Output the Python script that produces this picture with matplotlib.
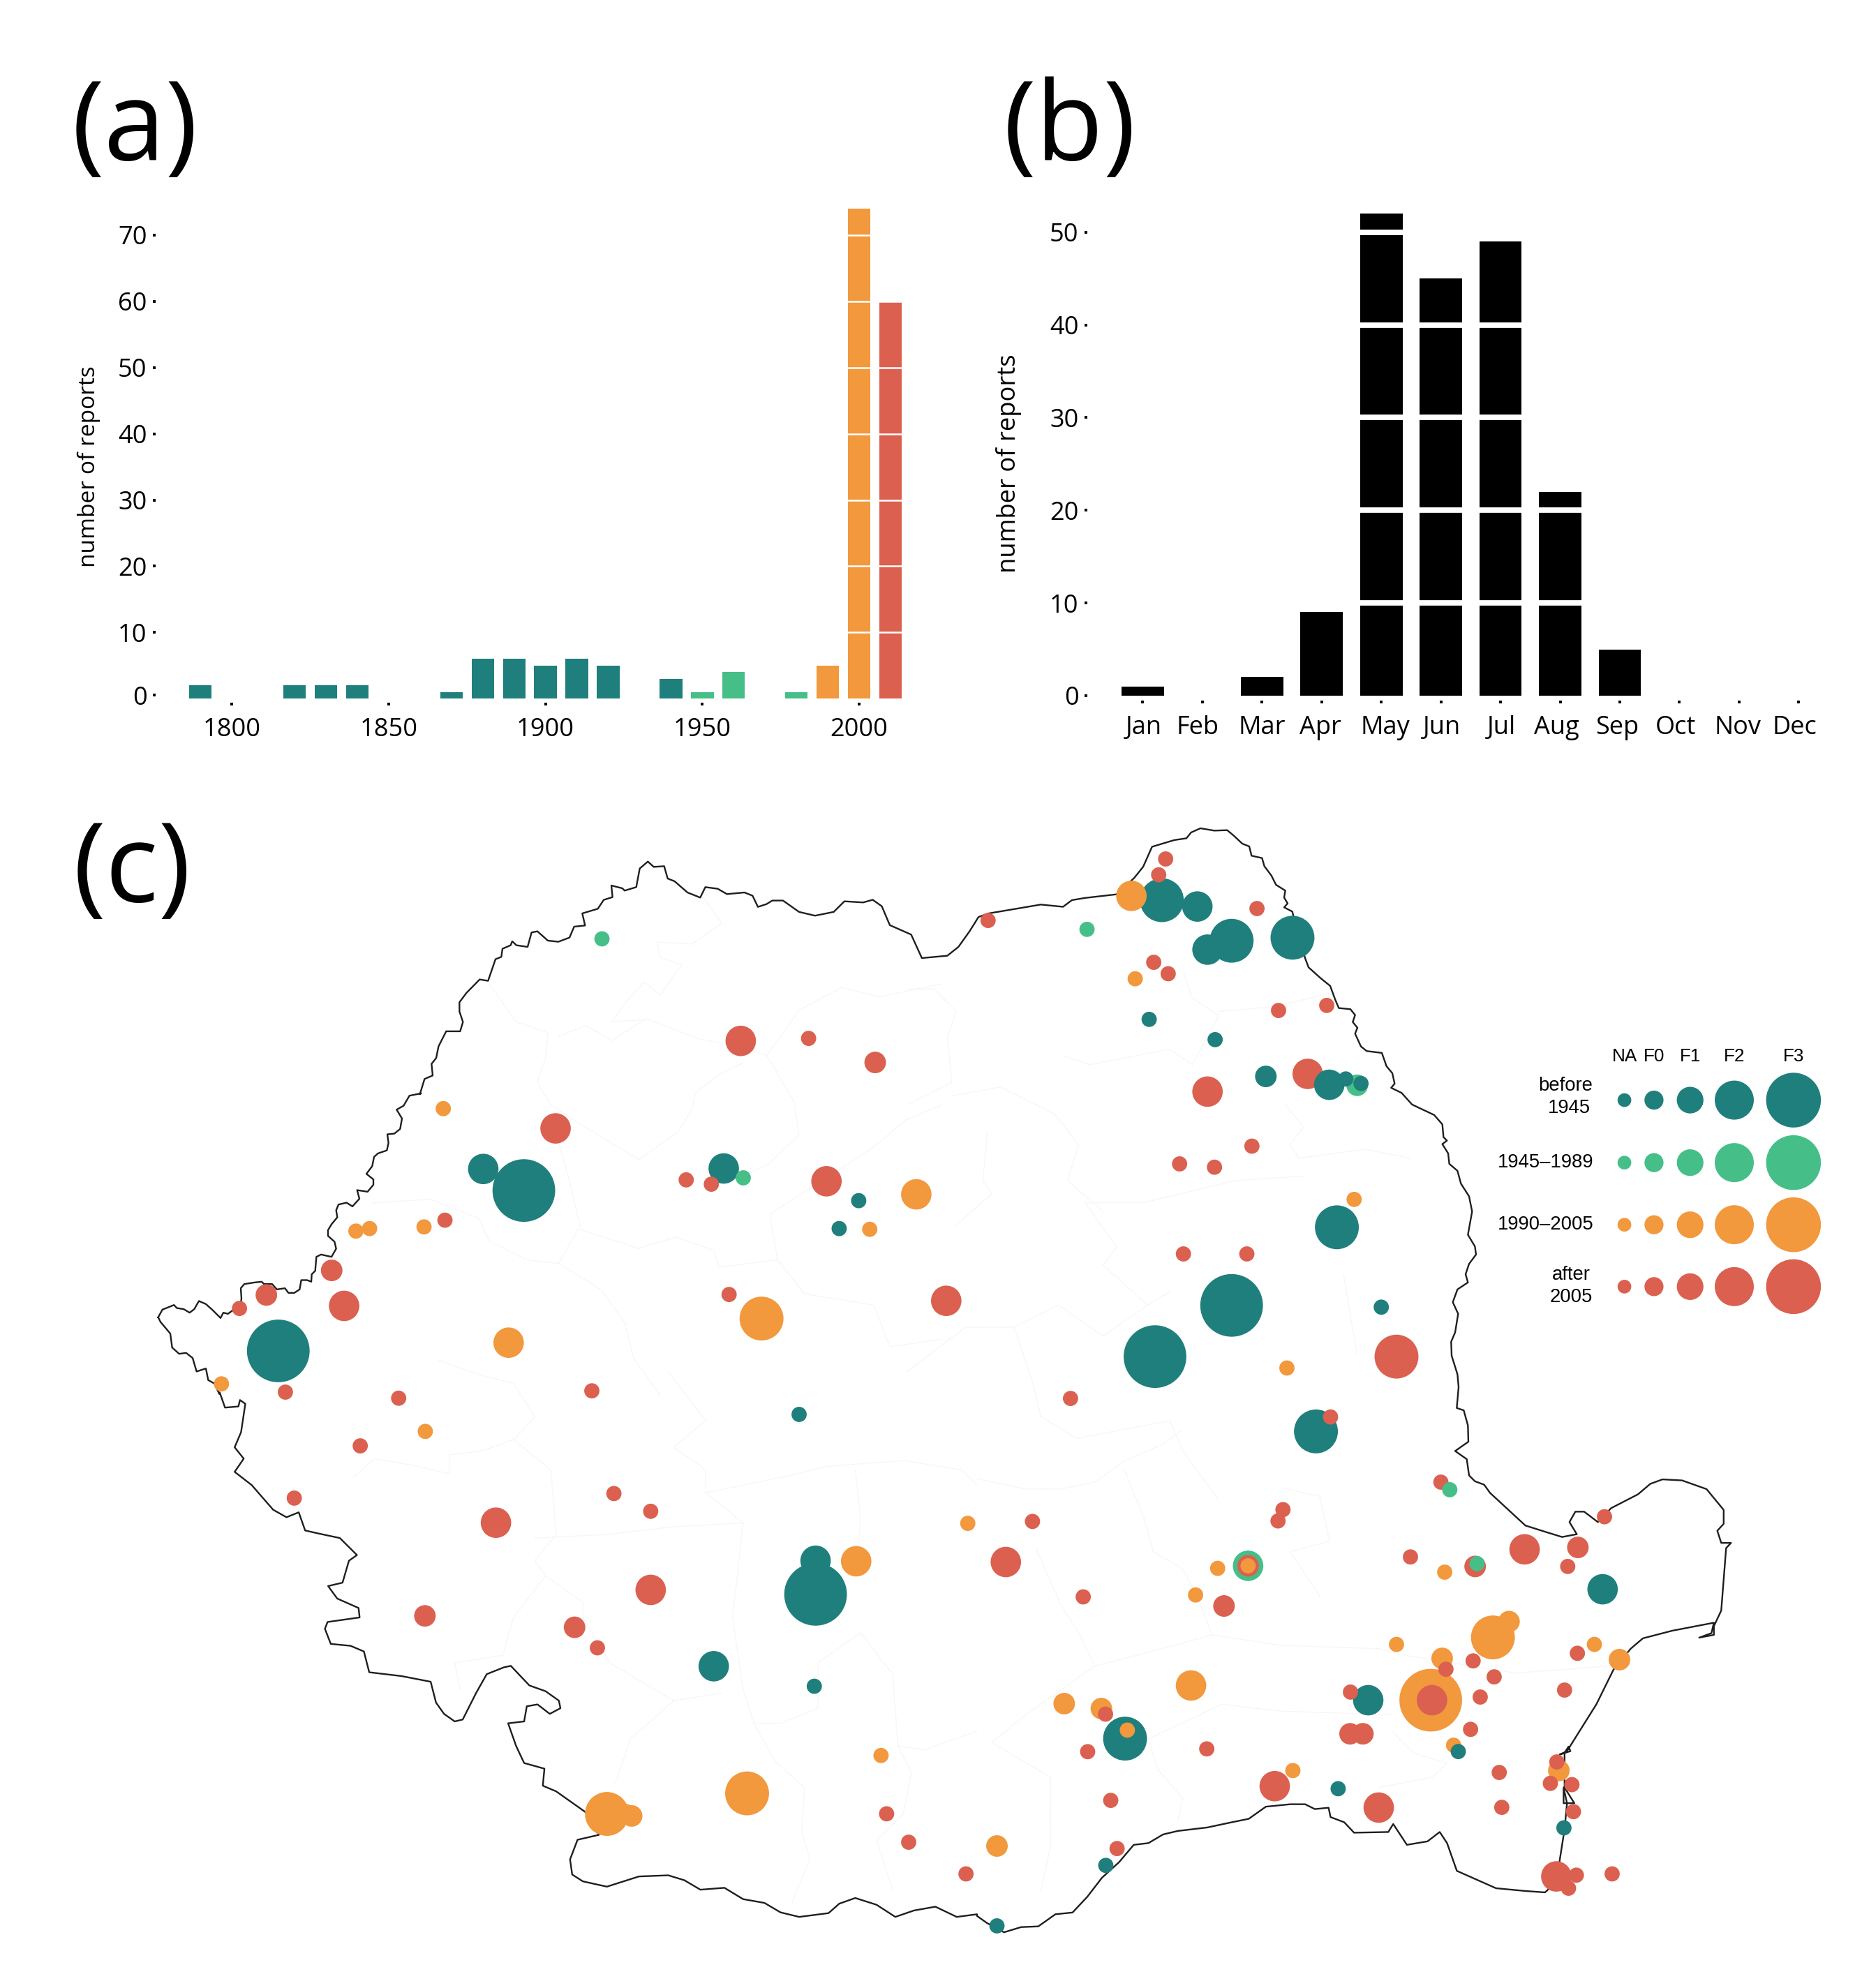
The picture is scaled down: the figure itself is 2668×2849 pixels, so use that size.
"""
plot.py - tornado reports: per decade (a), per month (b), and map of reports (c).
"""
import matplotlib
matplotlib.use("Agg")
import matplotlib.pyplot as plt
from matplotlib.patches import Circle
from matplotlib.transforms import ScaledTranslation

TEAL = "#1F7F7C"
GREEN = "#45BF87"
ORANGE = "#F2983D"
RED = "#DB6050"
W, H = 2668, 2849
SHOWN = 1468 / 2668   # map coordinates were read on the 1468 wide picture

plt.rcParams["font.family"] = ["Open Sans", "DejaVu Sans"]

# Panel a
decades = [1790, 1800, 1810, 1820, 1830, 1840, 1850, 1860, 1870, 1880, 1890, 1900,
           1910, 1920, 1930, 1940, 1950, 1960, 1970, 1980, 1990, 2000, 2010]
decade_counts = [2, 0, 0, 2, 2, 2, 0, 0, 1, 6, 6, 5, 6, 5, 0, 3, 1, 4, 0, 1, 5, 74, 60]
decade_colors = [TEAL] * 16 + [GREEN] * 4 + [ORANGE] * 2 + [RED]

# Panel b
months = ["Jan", "Feb", "Mar", "Apr", "May", "Jun", "Jul", "Aug", "Sep", "Oct", "Nov", "Dec"]
month_counts = [1, 0, 2, 9, 52, 45, 49, 22, 5, 0, 0, 0]
month_label_shift = [1, -4, 0, -1, 3, 1, 1, -3, -2, -3, -1, -3]   # labels sit a little off their ticks

# Panel c, reports as (x, y, F class)
red_pts = [
    (919, 677.5, "NA"), (913.5, 690, "NA"), (779, 726, "NA"), (991, 716.6, "NA"), (909.6, 759, "NA"),
    (921, 768, "NA"), (1008, 797, "NA"), (1046, 793, "NA"), (987, 904, "NA"), (930, 918, "NA"),
    (957.5, 920.6, "NA"), (933, 989, "NA"), (983, 989, "NA"), (746, 1026, "F1"), (1101, 1070, "F2"),
    (844, 1103, "NA"), (1049, 1117.6, "NA"), (1136, 1169, "NA"), (1031, 847, "F1"), (952, 861, "F1"),
    (584, 821, "F1"), (637.5, 819, "NA"), (690, 838, "F0"), (438, 890, "F1"), (541, 930.6, "NA"),
    (560.8, 934, "NA"), (651.6, 931.7, "F1"), (350.8, 962.4, "NA"), (261.5, 1002, "F0"), (210, 1021.4, "F0"),
    (188.8, 1032, "NA"), (271.3, 1030, "F1"), (574.8, 1021, "NA"), (225, 1098, "NA"), (314.3, 1102.8, "NA"),
    (466.6, 1097, "NA"), (284, 1140.4, "NA"), (232, 1181.6, "NA"), (391, 1201, "F1"), (484, 1178, "NA"),
    (513, 1192, "NA"), (513, 1254, "F1"), (335, 1274.5, "F0"), (453, 1283.5, "F0"), (471, 1299.7, "NA"),
    (699, 1430.6, "NA"), (716.4, 1453, "NA"), (761.6, 1478, "NA"), (814, 1200, "NA"), (793, 1232, "F1"),
    (854, 1259.5, "NA"), (871.6, 1352, "NA"), (857.5, 1381.6, "NA"), (951.4, 1379.4, "NA"), (875.7, 1420, "NA"),
    (880.7, 1458, "NA"), (1011.5, 1190.7, "NA"), (1007.6, 1199.6, "NA"), (984, 1235, "F0"), (965, 1266.7, "F0"),
    (1112, 1228, "NA"), (1163, 1235.5, "F0"), (1202, 1222, "F1"), (1244, 1220.5, "F0"), (1236, 1235.5, "NA"),
    (1265, 1196.3, "NA"), (1140, 1316.6, "NA"), (1161.4, 1310, "NA"), (1178, 1322.6, "NA"), (1167, 1338.5, "NA"),
    (1129, 1341, "F1"), (1064.7, 1334.6, "NA"), (1064.4, 1367.5, "F0"), (1074.5, 1367.5, "F0"), (1159.4, 1364, "NA"),
    (1182, 1398, "NA"), (1005, 1408.8, "F1"), (1087, 1425.7, "F1"), (1184, 1425.5, "NA"), (1227.4, 1389.7, "NA"),
    (1222.3, 1406.6, "NA"), (1239.3, 1407.6, "NA"), (1240.5, 1428.9, "NA"), (1227, 1480, "F1"), (1242.8, 1479, "NA"),
    (1236.6, 1489.3, "NA"), (1271, 1478, "NA"), (1243.6, 1304, "NA"), (1233.5, 1333, "NA"),
]
orange_pts = [
    (892, 706.6, "F1"), (895, 772, "NA"), (722.4, 942, "F1"), (1067.6, 946, "NA"), (1014.6, 1079, "NA"),
    (349.5, 874.4, "NA"), (685.7, 969.6, "NA"), (280.6, 971, "NA"), (291.4, 969, "NA"), (334.3, 967.7, "NA"),
    (401, 1059, "F1"), (600.4, 1040, "F2"), (174.6, 1091.5, "NA"), (335.3, 1129, "NA"), (763, 1201.5, "NA"),
    (675, 1231.4, "F1"), (694.6, 1384.6, "NA"), (589, 1414.5, "F2"), (478.5, 1430.7, "F2"), (498, 1432.3, "F0"),
    (494, 1429, "NA"), (839, 1343.7, "F0"), (868.3, 1347.6, "F0"), (888.8, 1364.6, "NA"), (939, 1329.4, "F1"),
    (786, 1456, "F0"), (984, 1235, "NA"), (960, 1237, "NA"), (942.6, 1258, "NA"), (1139, 1240, "NA"),
    (1177, 1291.5, "F2"), (1189.7, 1279, "F0"), (1101, 1297, "NA"), (1137, 1308, "F0"), (1128, 1341, "F3"),
    (1146, 1376.5, "NA"), (1019.3, 1396.5, "NA"), (1229, 1396.5, "F0"), (1257, 1297, "NA"), (1276.8, 1309, "F0"),
]
green_pts = [
    (857, 733, "NA"), (1070, 856, "F0"), (1143, 1175, "NA"), (474.6, 740.5, "NA"), (586, 929, "NA"),
    (984, 1235, "F1"), (1164.5, 1233.3, "NA"),
]
teal_pts = [
    (916, 710, "F2"), (944, 715, "F1"), (952, 749, "F1"), (971, 742, "F2"), (1019, 739.6, "F2"),
    (906, 804, "NA"), (958, 820, "NA"), (998, 849, "F0"), (1048, 855.6, "F1"), (1061, 851, "NA"),
    (1073, 854.6, "NA"), (1054, 968, "F2"), (971, 1029.6, "F3"), (910.6, 1070, "F3"), (1089, 1031, "NA"),
    (1037.5, 1129, "F2"), (381, 922, "F1"), (413, 939, "F3"), (570.6, 921.6, "F1"), (677, 947, "NA"),
    (661.6, 969, "NA"), (219.4, 1065.5, "F3"), (630, 1115.6, "NA"), (643, 1231, "F1"), (643, 1257.5, "F3"),
    (562.7, 1314.2, "F1"), (642, 1330, "NA"), (887, 1371.3, "F2"), (871.8, 1471.3, "NA"), (786, 1519, "NA"),
    (1263.5, 1253.5, "F1"), (1078.7, 1341, "F1"), (1149.7, 1381.5, "NA"), (1055, 1410.8, "NA"), (1233, 1441.7, "NA"),
]
map_radius = {"NA": 6, "F0": 8.5, "F1": 12, "F2": 17.3, "F3": 24.7}

# Legend of panel c
legend_classes = ["NA", "F0", "F1", "F2", "F3"]
legend_class_x = [1280.7, 1304, 1332.5, 1367.3, 1414]
legend_radius = [5.4, 7.5, 10.5, 15.4, 21.6]
legend_rows_y = [867.7, 917, 966, 1014.8]
legend_colors = [TEAL, GREEN, ORANGE, RED]

frame_a = (220, 1500, 3, 3)
frame_b = (600, 1220, 3, 3)
frame_c = (1700, 1170, 3, 3)
frame_d = (1950, 1640, 3, 3)
frame4 = (150, 1150, 1.3067, 1.845)
frame5 = (1300, 1150, 1.568, 1.568)
frame6 = (200, 1950, 1.3067, 1.845)
frame7 = (1400, 2050, 1.4255, 2.01)
border_nw = [(20, 1165), (38, 1132), (88, 1112), (100, 1125), (130, 1130), (155, 1145), (175, 1130), (195, 1095),
             (225, 1108), (255, 1135), (288, 1168), (300, 1145), (320, 1150), (340, 1135), (370, 1130), (378, 1085),
             (375, 1040), (390, 1022), (435, 1015), (465, 1012), (475, 1022), (510, 1022), (530, 1045), (565, 1040),
             (580, 1060), (605, 1060), (628, 1045), (635, 1005), (660, 1005), (678, 1012), (680, 980), (695, 965),
             (700, 905), (720, 895), (765, 905), (785, 870), (778, 840), (750, 815), (750, 790), (765, 765),
             (790, 735), (785, 705), (795, 680), (830, 672), (855, 688), (885, 655), (875, 618), (920, 625),
             (945, 595), (945, 572), (915, 548), (940, 515), (948, 475), (965, 460), (1003, 447), (1010, 415),
             (1005, 378), (1035, 375), (1060, 355), (1068, 310), (1045, 272), (1075, 255), (1100, 212), (1150, 202)]
border_n = [(5, 1045), (25, 980), (60, 965), (55, 915), (75, 890), (85, 840), (118, 775), (178, 775), (190, 735),
            (175, 690), (175, 650), (205, 610), (262, 552), (298, 558), (330, 465), (355, 455), (360, 420), (395, 405),
            (402, 388), (420, 405), (468, 412), (485, 350), (510, 345), (555, 385), (600, 390), (648, 372), (668, 325),
            (715, 320), (703, 268), (770, 248), (795, 210), (833, 198), (828, 148), (875, 160), (885, 170), (935, 155),
            (950, 75), (985, 45), (1010, 68), (1055, 65), (1070, 118), (1100, 130), (1155, 178), (1210, 200),
            (1232, 155), (1285, 162), (1325, 185), (1400, 178), (1435, 192), (1458, 240), (1495, 228)]
border4 = [(1250, 260), (1270, 260), (1300, 290), (1330, 300), (1365, 290), (1385, 262), (1420, 265), (1438, 258),
           (1455, 275), (1470, 325), (1510, 350), (1530, 412)]
border5 = [(35, 350), (90, 345), (115, 325), (140, 290), (160, 258), (182, 250), (300, 230), (350, 235), (370, 220),
           (400, 215), (470, 207), (510, 170), (530, 145), (550, 100), (600, 85)]
border_ne = [(0, 95), (20, 70), (60, 52), (120, 62), (175, 60), (205, 85), (240, 118), (270, 130), (280, 170),
             (325, 180), (335, 215), (365, 255), (385, 295), (425, 320), (420, 350), (435, 375), (420, 392), (455, 410),
             (460, 430), (510, 610), (525, 650), (575, 695), (618, 730), (640, 790), (655, 825), (705, 830), (725, 855),
             (715, 885), (735, 910), (725, 935), (750, 990), (775, 1010), (840, 1018), (860, 1075), (885, 1105),
             (895, 1150), (880, 1168), (925, 1190), (970, 1240), (1065, 1285), (1100, 1325), (1105, 1380), (1120, 1395),
             (1100, 1410)]
border_e = [(375, 40), (380, 85), (415, 115), (430, 170), (465, 225), (478, 290), (460, 390), (490, 440), (495, 475),
            (465, 515), (450, 560), (460, 595), (415, 625), (395, 680), (418, 730), (405, 810), (388, 850), (390, 910),
            (415, 990), (420, 1045), (412, 1135), (442, 1145), (460, 1210), (462, 1280), (405, 1320), (455, 1355),
            (465, 1425), (490, 1450), (530, 1465), (555, 1500)]
border7 = [(1120, 275), (1165, 295), (1195, 308), (1225, 300), (1210, 265), (1222, 235), (1240, 235), (1268, 265),
           (1295, 225), (1350, 185), (1375, 155), (1400, 142), (1440, 145), (1490, 170), (1525, 230), (1525, 270),
           (1512, 290), (1520, 325), (1540, 325), (1530, 340), (1520, 520), (1505, 565), (1505, 590), (1475, 598),
           (1500, 585), (1505, 555), (1420, 578), (1360, 600), (1335, 630), (1300, 690), (1265, 790), (1205, 925),
           (1190, 935), (1212, 925), (1208, 912), (1200, 930), (1200, 1030), (1220, 1075), (1198, 1075), (1198, 1030),
           (1205, 1075), (1200, 1150), (1190, 1240), (1185, 1300), (1160, 1332), (1120, 1328), (1060, 1320), (980, 1270),
           (960, 1190), (945, 1158), (920, 1185), (878, 1195), (850, 1135), (840, 1158), (770, 1160), (750, 1130),
           (722, 1115), (718, 1088), (690, 1092), (670, 1078), (640, 1078), (590, 1085), (555, 1120), (520, 1130),
           (470, 1145), (410, 1155), (380, 1165), (350, 1190), (320, 1195), (290, 1245), (255, 1290), (225, 1345),
           (195, 1390), (160, 1395), (125, 1430), (90, 1432), (55, 1447), (20, 1420), (0, 1400)]
border6 = [(1568, 1465), (1530, 1472), (1490, 1445), (1450, 1455), (1415, 1472), (1380, 1440), (1340, 1422),
           (1310, 1437), (1290, 1462), (1235, 1472), (1200, 1460), (1170, 1435), (1130, 1425), (1095, 1395),
           (1050, 1400), (1020, 1375), (990, 1362), (935, 1365), (875, 1392), (830, 1378), (810, 1360), (806, 1320),
           (820, 1268), (860, 1255), (835, 1195), (780, 1140), (755, 1125), (758, 1080), (720, 1065), (705, 1020),
           (690, 960), (720, 955), (725, 915), (745, 910), (768, 935), (788, 920), (785, 900), (760, 875), (730, 860),
           (695, 808), (682, 812), (650, 830), (630, 880), (605, 950), (590, 955), (570, 935), (555, 905), (545, 850),
           (490, 835), (430, 825), (420, 770), (395, 755), (358, 750), (347, 710), (352, 692), (412, 680), (410, 655),
           (370, 630), (353, 597), (380, 588), (392, 530), (407, 515), (375, 470), (335, 458), (310, 450), (298, 402),
           (275, 415), (250, 395), (210, 330), (178, 295), (195, 260), (178, 230), (190, 190), (198, 115), (188, 105),
           (185, 122), (160, 125), (150, 85)]
border_w = [(283, 1495), (262, 1450), (235, 1435), (225, 1385), (185, 1398), (168, 1340), (140, 1318), (110, 1322),
            (80, 1295), (72, 1235), (30, 1185), (20, 1165)]

# County lines, very faint, same crops
county4 = [
    [(1120, 250), (1155, 320), (1100, 375), (1035, 370), (1040, 410), (1080, 430), (1040, 510), (1010, 475), (975, 530),
     (950, 580), (1020, 575), (1110, 625), (1200, 650), (1240, 670)],
    [(720, 480), (770, 580), (830, 610), (825, 680), (810, 740), (835, 800), (900, 860), (1000, 945), (1075, 870),
     (1100, 810), (1105, 770), (1150, 720), (1195, 690)],
    [(850, 620), (900, 590), (950, 630), (1010, 575)],
    [(1240, 670), (1290, 790), (1300, 880), (1240, 960), (1150, 1010)],
    [(500, 1060), (610, 1050), (700, 1100), (720, 1160), (790, 1210), (850, 1220), (890, 1120), (870, 1000), (850, 900)],
    [(850, 1220), (930, 1290), (975, 1380), (990, 1470), (1040, 1568)],
    [(890, 1130), (1000, 1180), (1070, 1150), (1140, 1185), (1150, 1230), (1260, 1210), (1310, 1300), (1440, 1330),
     (1470, 1440), (1568, 1420)],
    [(1380, 490), (1300, 550), (1240, 670)],
    [(1380, 490), (1450, 515), (1568, 480)],
    [(1260, 1210), (1245, 1090), (1420, 930), (1450, 900), (1500, 840), (1568, 800)],
]
county6 = [
    [(400, 310), (440, 260), (520, 280), (580, 300), (580, 250), (640, 240), (700, 210), (770, 290), (780, 460), (740, 530),
     (760, 570), (830, 640), (830, 680), (880, 800), (1000, 900), (1090, 880)],
    [(700, 210), (740, 150), (700, 60), (640, 40), (560, 0)],
    [(740, 470), (880, 460), (1000, 440), (1130, 430), (1120, 560), (1110, 680), (1130, 870), (1150, 960), (1200, 960),
     (1270, 920), (1270, 800), (1350, 720), (1410, 830), (1420, 1020)],
    [(1130, 430), (1060, 350), (1060, 290), (1000, 230), (1060, 160), (990, 30)],
    [(1060, 350), (1200, 310), (1290, 280), (1430, 265), (1540, 290), (1568, 330)],
    [(1340, 290), (1350, 420), (1345, 500)],
    [(760, 570), (700, 680), (680, 780), (590, 800), (600, 870)],
    [(1150, 960), (1190, 1060), (1245, 1130), (1240, 1250), (1255, 1320), (1220, 1440)],
    [(1420, 1020), (1470, 1030), (1568, 980)],
    [(1420, 1020), (1445, 1090), (1430, 1200), (1380, 1270), (1410, 1400)],
    [(1000, 900), (920, 1000), (890, 1120)],
]
county5 = [
    [(0, 420), (60, 420), (110, 470), (90, 530), (100, 630), (0, 680)],
    [(100, 660), (210, 640), (330, 700), (385, 770), (360, 850), (440, 920)],
    [(350, 570), (410, 590), (590, 555), (640, 590), (700, 480), (640, 440), (620, 380)],
    [(700, 470), (820, 460), (950, 430)],
    [(180, 740), (170, 850), (190, 880), (110, 950)],
    [(400, 900), (470, 1000), (440, 1040), (540, 1130), (590, 1100)],
    [(850, 680), (890, 730), (860, 770), (880, 800), (1030, 780), (1130, 800)],
    [(400, 900), (530, 900), (740, 850), (890, 840)],
    [(980, 1060), (1000, 1180), (1010, 1240)],
    [(0, 1280), (130, 1180), (240, 1180), (340, 1130), (440, 1200), (540, 1130)],
    [(240, 1180), (280, 1300), (300, 1380), (380, 1430), (590, 1390), (620, 1460), (700, 1568)],
]
county7 = [
    [(0, 140), (100, 170), (170, 170), (240, 150), (300, 90), (380, 40), (420, 0)],
    [(120, 340), (170, 500), (210, 590), (240, 680), (350, 640), (480, 590), (620, 620), (820, 630)],
    [(820, 630), (880, 650), (1100, 700), (1290, 680)],
    [(480, 590), (450, 480), (420, 400), (360, 350), (340, 250), (300, 110)],
    [(700, 480), (640, 350), (720, 320), (700, 190), (630, 170)],
    [(850, 870), (890, 930), (960, 960), (930, 1000), (820, 1030)],
    [(240, 680), (100, 820), (30, 900), (90, 950), (150, 1000), (150, 1200), (130, 1330)],
    [(370, 980), (420, 1060), (410, 1130)],
    [(370, 980), (350, 890), (500, 790), (620, 810), (850, 820)],
]


def to_shown(points, frame):
    """crop coordinates -> coordinates on the 1468 wide picture"""
    x0, y0, sx, sy = frame
    return [(x0 + x / sx) * SHOWN for x, y in points], [(y0 + y / sy) * SHOWN for x, y in points]


def add_axes_px(fig, left, top, right, bottom):
    return fig.add_axes([left / W, 1 - bottom / H, (right - left) / W, (bottom - top) / H])


def style_bars(ax):
    for s in ax.spines.values():
        s.set_visible(False)
    ax.tick_params(length=1.3, width=1.4, labelsize=13, color="black")
    ax.tick_params(axis="y", pad=3.2)
    ax.tick_params(axis="x", pad=6.2)


fig = plt.figure(figsize=(W / 200, H / 200), dpi=200, facecolor="white")

# ── (a) per decade ──
ax_a = add_axes_px(fig, 223, 280, 1303, 1007)
ax_a.bar(decades, decade_counts, width=7.2, color=decade_colors)
ax_a.hlines(range(10, 80, 10), 1775, 2016, color="white", lw=0.9)
ax_a.set_xlim(1775.7, 2016)
ax_a.set_ylim(-0.6, 76)
ax_a.set_xticks([1800, 1850, 1900, 1950, 2000])
ax_a.set_yticks([0.55, 10, 20, 30, 40, 50, 60, 70])  # the 0 mark sits just above the bar feet
ax_a.set_yticklabels(["0", "10", "20", "30", "40", "50", "60", "70"])
style_bars(ax_a)

# ── (b) per month ──
ax_b = add_axes_px(fig, 1558, 293, 2620, 1004)
ax_b.bar(range(1, 13), month_counts, width=0.71, color="black")
ax_b.hlines(range(10, 60, 10), 0, 13, color="white", lw=2.8)
ax_b.set_xlim(0.07, 12.5)
ax_b.set_ylim(-0.53, 53)
ax_b.set_xticks(range(1, 13))
ax_b.set_xticklabels(months)
ax_b.set_yticks(range(0, 60, 10))
style_bars(ax_b)
for lab, dx in zip(ax_b.get_xticklabels(), month_label_shift):
    shift = ScaledTranslation(dx / SHOWN / 200, 0, fig.dpi_scale_trans)
    lab.set_transform(lab.get_transform() + shift)

fig.text(127 / W, 1 - 669 / H, "number of reports", rotation=90, ha="center", va="center", fontsize=12.05)
fig.text(1445 / W, 1 - 664 / H, "number of reports", rotation=90, ha="center", va="center", fontsize=13.1)

# ── (c) map ──
ax_c = fig.add_axes([0, 0, 1, 1], facecolor="none")
ax_c.set_xlim(0, 1468)
ax_c.set_ylim(1568, 0)
ax_c.axis("off")

for lines, frame in [(county4, frame4), (county5, frame5), (county6, frame6), (county7, frame7)]:
    for line in lines:
        xs, ys = to_shown(line, frame)
        ax_c.plot(xs, ys, color="#F3F3F3", lw=0.5, ls=(0, (2, 1)), zorder=1)

border_x, border_y = [], []
border_parts = [(border_nw, frame_a), (border_n, frame_b), (border4, frame4), (border5, frame5), (border_ne, frame_c),
                (border_e, frame_d), (border7, frame7), (border6, frame6), (border_w, frame_a)]
for part, frame in border_parts:
    xs, ys = to_shown(part, frame)
    border_x += xs
    border_y += ys
ax_c.plot(border_x, border_y, color="#1E1E1E", lw=0.85, zorder=2, solid_joinstyle="round")

reports = [(x, y, c, RED) for x, y, c in red_pts] + [(x, y, c, ORANGE) for x, y, c in orange_pts] \
    + [(x, y, c, GREEN) for x, y, c in green_pts] + [(x, y, c, TEAL) for x, y, c in teal_pts]
reports.sort(key=lambda r: -map_radius[r[2]])  # small ones stay on top
for i, (x, y, c, col) in enumerate(reports):
    ax_c.add_patch(Circle((x, y), map_radius[c], facecolor=col, edgecolor="none", zorder=3 + i * 0.001))

# legend
for y, col in zip(legend_rows_y, legend_colors):
    for x, r in zip(legend_class_x, legend_radius):
        ax_c.add_patch(Circle((x, y), r, facecolor=col, edgecolor="none", zorder=5))
for x, name in zip(legend_class_x, legend_classes):
    ax_c.text(x, 833, name, ha="center", va="center", fontsize=9.4, family="Liberation Sans")
leg_font = dict(va="center", fontsize=9.9, family="Liberation Sans")
ax_c.text(1234.5, 856.6, "before", ha="center", **leg_font)
ax_c.text(1237.2, 873.8, "1945", ha="center", **leg_font)
ax_c.text(1256.6, 917, "1945–1989", ha="right", **leg_font)
ax_c.text(1256.6, 966, "1990–2005", ha="right", **leg_font)
ax_c.text(1238.8, 1005.7, "after", ha="center", **leg_font)
ax_c.text(1238.8, 1023, "2005", ha="center", **leg_font)

# panel letters
for label, x_px, y_px in [("(a)", 103, 229), ("(b)", 1438, 229), ("(c)", 105, 1292)]:
    fig.text(x_px / W, 1 - y_px / H, label, fontsize=57, ha="left", va="baseline", color="black")

fig.savefig("out.png", dpi=200, facecolor="white")
